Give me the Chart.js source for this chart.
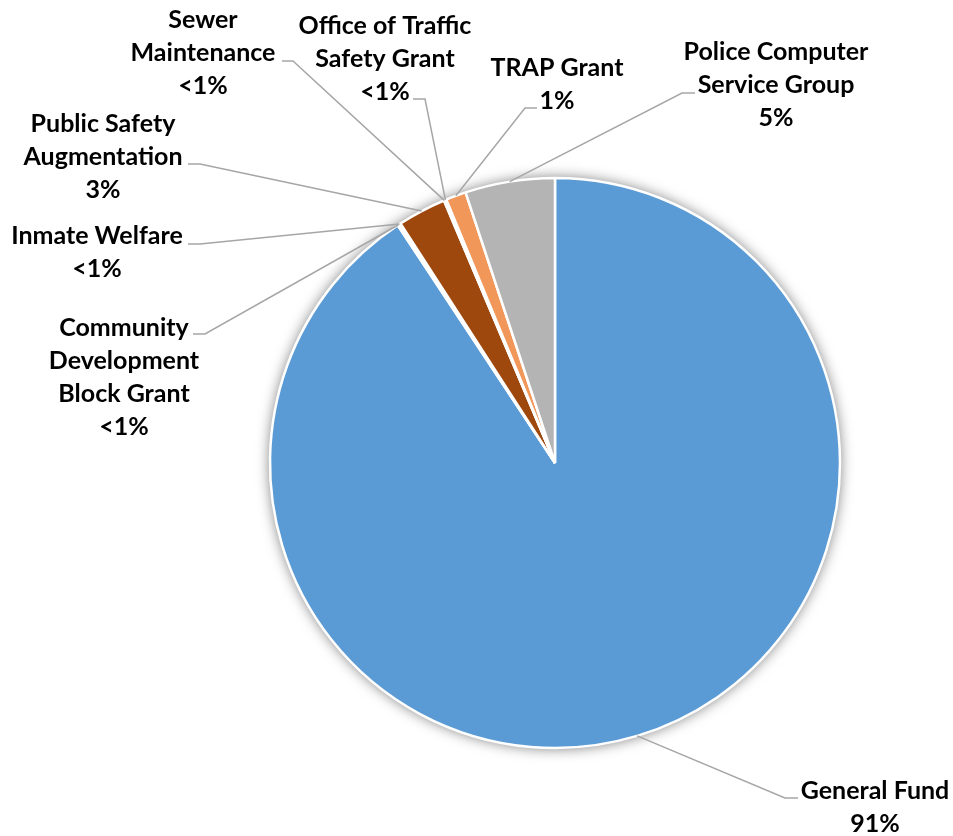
<!DOCTYPE html>
<html>
<head>
<meta charset="utf-8">
<script src="https://cdn.jsdelivr.net/npm/chart.js@4.4.1/dist/chart.umd.min.js"></script>
<style>
  html, body { margin: 0; padding: 0; background: #ffffff; }
  #wrap { width: 953px; height: 836px; position: relative; }
</style>
</head>
<body>
<div id="wrap"><canvas id="c" width="953" height="836"></canvas></div>
<script>
// Funding sources (share of total budget, percent)
const categories = [
  ['General Fund'],
  ['Community', 'Development', 'Block Grant'],
  ['Inmate Welfare'],
  ['Public Safety', 'Augmentation'],
  ['Sewer', 'Maintenance'],
  ['Office of Traffic', 'Safety Grant'],
  ['TRAP Grant'],
  ['Police Computer', 'Service Group']
];
const shares = [90.7, 0.06, 0.12, 2.75, 0.04, 0.10, 1.15, 5.08];
const sliceColors = ['#5B9BD5', '#5B9BD5', '#5B9BD5', '#9E480E', '#F1975A', '#F1975A', '#F1975A', '#B4B4B4'];

// Callout layout: text centre x, first line centre y, elbow point, horizontal stub end
const calloutLayout = [
  { cx: 875, y: 791, ex: 785, ey: 798, sx: 798 },
  { cx: 124, y: 328, ex: 205, ey: 334, sx: 193 },
  { cx: 97,  y: 236, ex: 200, ey: 244, sx: 188 },
  { cx: 103, y: 124, ex: 200, ey: 164, sx: 188 },
  { cx: 203, y: 20,  ex: 293, ey: 61,  sx: 282 },
  { cx: 385, y: 26,  ex: 425, ey: 99,  sx: 413 },
  { cx: 557, y: 68,  ex: 525, ey: 108, sx: 537 },
  { cx: 776, y: 52,  ex: 682, ey: 93,  sx: 695 }
];

const FONT = 'bold 25px Lato, "Open Sans", sans-serif';
const LINE_H = 33;

function pctLabel(v, total) {
  const p = v / total * 100;
  return p < 1 ? '<1%' : Math.round(p) + '%';
}

// Soft drop shadow under the whole pie
const pieShadow = {
  id: 'pieShadow',
  beforeDatasetsDraw(chart) {
    const arc = chart.getDatasetMeta(0).data[0];
    if (!arc) return;
    const ctx = chart.ctx;
    ctx.save();
    ctx.shadowColor = 'rgba(0,0,0,0.55)';
    ctx.shadowBlur = 14;
    ctx.fillStyle = '#ffffff';
    ctx.beginPath();
    ctx.arc(arc.x, arc.y, arc.outerRadius, 0, Math.PI * 2);
    ctx.fill();
    ctx.restore();
  }
};

// Callout labels with leader lines to each slice
const callouts = {
  id: 'callouts',
  afterDatasetsDraw(chart) {
    const ctx = chart.ctx;
    const meta = chart.getDatasetMeta(0);
    const data = chart.data.datasets[0].data;
    const total = data.reduce((a, b) => a + b, 0);
    ctx.save();
    meta.data.forEach((arc, i) => {
      const L = calloutLayout[i];
      const mid = (arc.startAngle + arc.endAngle) / 2;
      const px = arc.x + Math.cos(mid) * arc.outerRadius;
      const py = arc.y + Math.sin(mid) * arc.outerRadius;
      ctx.strokeStyle = '#A6A6A6';
      ctx.lineWidth = 1.5;
      ctx.beginPath();
      ctx.moveTo(L.sx, L.ey);
      ctx.lineTo(L.ex, L.ey);
      ctx.lineTo(px, py);
      ctx.stroke();

      const lines = chart.data.labels[i].concat([pctLabel(data[i], total)]);
      ctx.fillStyle = '#000000';
      ctx.font = FONT;
      ctx.textAlign = 'center';
      ctx.textBaseline = 'middle';
      lines.forEach((t, k) => ctx.fillText(t, L.cx, L.y + k * LINE_H));
    });
    ctx.restore();
  }
};

new Chart(document.getElementById('c'), {
  type: 'pie',
  data: {
    labels: categories,
    datasets: [{
      data: shares,
      backgroundColor: sliceColors,
      borderColor: '#ffffff',
      borderWidth: 2.5
    }]
  },
  options: {
    responsive: false,
    animation: false,
    radius: 285,
    layout: { padding: { left: 157, right: 0, top: 90, bottom: 0 } },
    plugins: {
      legend: { display: false },
      tooltip: { enabled: false }
    }
  },
  plugins: [pieShadow, callouts]
});
</script>
</body>
</html>
